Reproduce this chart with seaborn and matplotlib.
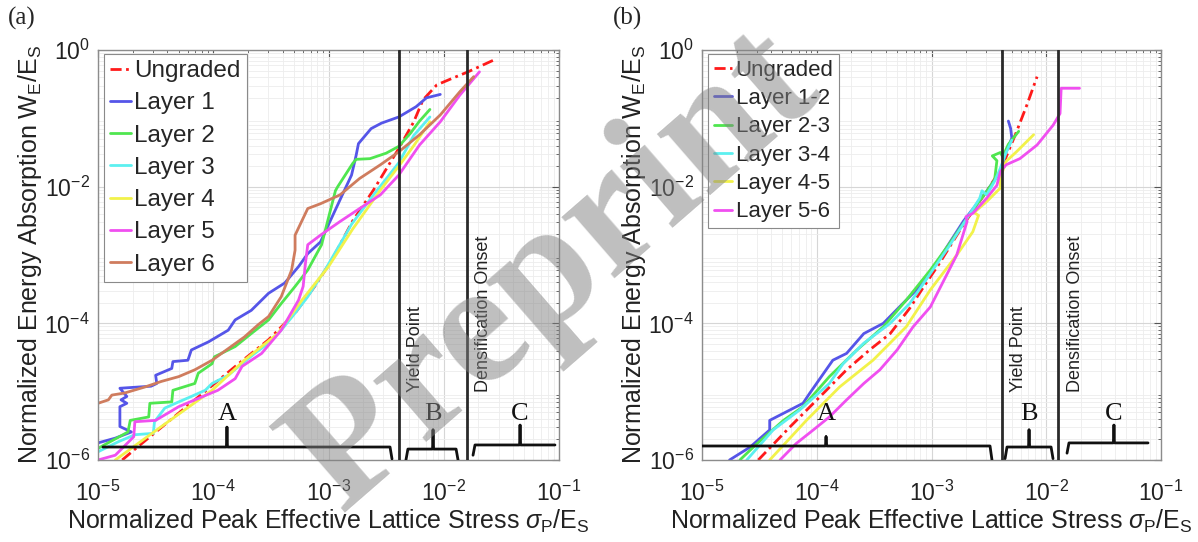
import numpy as np
import pandas as pd
import matplotlib
matplotlib.use("Agg")
import matplotlib.pyplot as plt
import seaborn as sns
from matplotlib.ticker import LogLocator, NullFormatter

sns.set_theme(style="white")
plt.rcParams['font.family'] = ['Liberation Sans', 'DejaVu Sans']
plt.rcParams['mathtext.fontset'] = 'custom'
plt.rcParams['mathtext.rm'] = 'Liberation Sans'
plt.rcParams['mathtext.it'] = 'Liberation Sans:italic'
plt.rcParams['mathtext.sf'] = 'Liberation Sans'

# ---------------- data (log10 of values) ----------------
# Panel (a)
names_a = ["Ungraded", "Layer 1", "Layer 2", "Layer 3", "Layer 4", "Layer 5", "Layer 6"]
ungraded_a_lx = [-4.79, -4.65, -4.16, -3.78, -3.52, -3.29, -3.12, -2.97, -2.79, -2.61, -2.39, -2.26, -2.18, -2.06, -1.92, -1.79, -1.57]
ungraded_a_ly = [-6.0, -5.80, -5.12, -4.59, -4.24, -3.85, -3.46, -3.07, -2.50, -2.05, -1.44, -1.05, -0.73, -0.51, -0.41, -0.32, -0.15]
layer1_a_lx = [-5.0, -4.85, -4.71, -4.81, -4.81, -4.75, -4.80, -4.75, -4.81, -4.54, -4.49, -4.50, -4.36, -4.35, -4.22, -4.19, -4.04,
               -3.87, -3.81, -3.67, -3.52, -3.38, -3.26, -3.18, -3.07, -2.80, -2.76, -2.74, -2.70, -2.63, -2.54, -2.39, -2.24, -2.15, -2.03]
layer1_a_ly = [-5.75, -5.68, -5.59, -5.51, -5.22, -5.17, -5.12, -5.07, -4.95, -4.92, -4.88, -4.76, -4.66, -4.56, -4.54, -4.39, -4.27,
               -4.10, -3.95, -3.81, -3.56, -3.41, -3.17, -2.98, -2.81, -1.83, -1.54, -1.37, -1.29, -1.15, -1.07, -0.98, -0.83, -0.70, -0.65]
layer2_a_lx = [-5.0, -4.74, -4.72, -4.56, -4.55, -4.36, -4.35, -4.16, -4.13, -4.01, -3.99, -3.81, -3.67, -3.52, -3.41, -3.29, -3.18,
               -3.06, -2.94, -2.92, -2.79, -2.76, -2.64, -2.50, -2.39, -2.29, -2.21, -2.12]
layer2_a_ly = [-5.83, -5.59, -5.42, -5.37, -5.17, -5.15, -4.98, -4.88, -4.73, -4.59, -4.49, -4.34, -4.15, -3.95, -3.71, -3.46, -3.22,
               -2.85, -2.06, -2.00, -1.66, -1.60, -1.59, -1.51, -1.41, -1.22, -1.04, -0.87]
layer3_a_lx = [-5.0, -4.82, -4.68, -4.52, -4.51, -4.42, -4.30, -4.19, -4.07, -4.01, -3.87, -3.75, -3.64, -3.52, -3.41, -3.29, -3.18,
               -3.03, -2.80, -2.60, -2.39, -2.26, -2.12]
layer3_a_ly = [-5.88, -5.73, -5.63, -5.61, -5.44, -5.24, -5.15, -5.07, -4.98, -4.88, -4.76, -4.59, -4.44, -4.29, -4.10, -3.85, -3.61,
               -3.22, -2.55, -2.10, -1.65, -1.25, -0.98]
layer4_a_lx = [-4.85, -4.45, -4.01, -3.73, -3.44, -3.23, -3.00, -2.79, -2.55, -2.39, -2.26, -2.12]
layer4_a_ly = [-6.0, -5.51, -4.98, -4.54, -4.15, -3.66, -3.17, -2.62, -2.05, -1.70, -1.40, -1.05]
layer5_a_lx = [-5.0, -4.85, -4.69, -4.68, -4.50, -4.30, -4.16, -3.96, -3.81, -3.75, -3.58, -3.41, -3.26, -3.22, -3.20, -3.18, -3.07,
               -2.90, -2.73, -2.55, -2.39, -2.21, -2.03, -1.86, -1.69]
layer5_a_ly = [-6.0, -5.93, -5.66, -5.44, -5.42, -5.22, -5.12, -4.98, -4.81, -4.63, -4.44, -4.10, -3.66, -3.46, -3.12, -2.85, -2.71,
               -2.51, -2.32, -2.12, -1.83, -1.39, -1.05, -0.66, -0.32]
layer6_a_lx = [-5.0, -4.91, -4.88, -4.77, -4.59, -4.45, -4.30, -4.16, -4.01, -3.87, -3.73, -3.61, -3.52, -3.41, -3.32, -3.29, -3.29,
               -3.18, -3.07, -2.90, -2.73, -2.55, -2.39, -2.21, -2.03, -1.86, -1.74]
layer6_a_ly = [-5.17, -5.12, -5.05, -5.02, -4.93, -4.85, -4.78, -4.68, -4.54, -4.37, -4.20, -4.02, -3.90, -3.61, -3.22, -2.93, -2.71,
               -2.32, -2.25, -2.12, -1.88, -1.68, -1.49, -1.24, -0.95, -0.61, -0.39]

# Panel (b)
names_b = ["Ungraded", "Layer 1-2", "Layer 2-3", "Layer 3-4", "Layer 4-5", "Layer 5-6"]
ungraded_b_lx = [-4.51, -4.23, -3.94, -3.74, -3.54, -3.36, -3.19, -3.07, -2.93, -2.72, -2.52, -2.39, -2.26, -2.17, -2.08]
ungraded_b_ly = [-6.0, -5.51, -5.02, -4.68, -4.39, -4.15, -3.78, -3.47, -3.12, -2.55, -2.07, -1.73, -1.20, -0.81, -0.39]
layer12_b_lx = [-4.76, -4.58, -4.41, -4.41, -4.12, -4.06, -3.86, -3.74, -3.59, -3.42, -3.25, -3.07, -2.93, -2.72, -2.52, -2.40, -2.36, -2.30, -2.31, -2.33]
layer12_b_ly = [-6.0, -5.81, -5.56, -5.42, -5.17, -5.02, -4.54, -4.44, -4.15, -4.0, -3.71, -3.41, -3.05, -2.50, -2.07, -1.78, -1.54, -1.29, -1.15, -1.04]
layer23_b_lx = [-4.67, -4.52, -4.29, -4.12, -3.89, -3.65, -3.42, -3.22, -3.01, -2.85, -2.69, -2.52, -2.45, -2.43, -2.47, -2.40, -2.38, -2.33, -2.24]
layer23_b_ly = [-6.0, -5.76, -5.42, -5.22, -4.78, -4.39, -4.05, -3.66, -3.22, -2.85, -2.46, -2.07, -1.90, -1.62, -1.55, -1.50, -1.56, -1.38, -1.19]
layer34_b_lx = [-4.61, -4.38, -4.15, -3.89, -3.77, -3.59, -3.36, -3.19, -3.01, -2.85, -2.69, -2.58, -2.56, -2.52, -2.45, -2.40, -2.35, -2.30]
layer34_b_ly = [-6.0, -5.56, -5.27, -4.88, -4.59, -4.29, -4.0, -3.71, -3.27, -2.88, -2.46, -2.17, -2.06, -2.12, -1.92, -1.73, -1.50, -1.32]
layer45_b_lx = [-4.41, -4.09, -3.80, -3.51, -3.22, -3.01, -2.78, -2.64, -2.59, -2.63, -2.52, -2.40, -2.40, -2.35, -2.26, -2.11]
layer45_b_ly = [-6.0, -5.42, -4.93, -4.54, -4.05, -3.51, -3.0, -2.66, -2.42, -2.38, -2.22, -2.02, -1.87, -1.63, -1.49, -1.24]
layer56_b_lx = [-4.32, -4.18, -4.03, -3.89, -3.74, -3.59, -3.45, -3.30, -3.16, -3.01, -2.78, -2.69, -2.70, -2.64, -2.52, -2.43,
                -2.40, -2.35, -2.23, -2.08, -1.94, -1.88, -1.87, -1.71]
layer56_b_ly = [-6.0, -5.76, -5.56, -5.37, -5.12, -4.88, -4.68, -4.39, -4.05, -3.76, -3.0, -2.51, -2.44, -2.39, -2.17, -1.98,
                -1.78, -1.68, -1.59, -1.39, -1.10, -0.93, -0.56, -0.56]

# region markers (log10 of stress)
yield_a, dens_a = -2.388, -1.798
yield_b, dens_b = -2.386, -1.898
region_labels = ["A", "B", "C"]
tick_exps_x = [-5, -4, -3, -2, -1]
tick_exps_y = [-6, -4, -2, 0]

colors = ["#ff1a1a", "#5555e8", "#4fe64f", "#5cf0f0", "#f2f24a", "#f04ff0", "#cf7c5e"]

# ---------------------------------------------------------------------------
W, H = 1198, 542
fig = plt.figure(figsize=(W / 100, H / 100), dpi=100)
ax_a = fig.add_axes([98 / W, 1 - 460 / H, 461 / W, 410 / H])
ax_b = fig.add_axes([702 / W, 1 - 460 / H, 459 / W, 410 / H])


def make_df(names, lxs, lys):
    frames = []
    for n, lx, ly in zip(names, lxs, lys):
        frames.append(pd.DataFrame({"x": np.power(10.0, lx), "y": np.power(10.0, ly), "series": n}))
    return pd.concat(frames, ignore_index=True)


df_a = make_df(names_a,
               [ungraded_a_lx, layer1_a_lx, layer2_a_lx, layer3_a_lx, layer4_a_lx, layer5_a_lx, layer6_a_lx],
               [ungraded_a_ly, layer1_a_ly, layer2_a_ly, layer3_a_ly, layer4_a_ly, layer5_a_ly, layer6_a_ly])
df_b = make_df(names_b,
               [ungraded_b_lx, layer12_b_lx, layer23_b_lx, layer34_b_lx, layer45_b_lx, layer56_b_lx],
               [ungraded_b_ly, layer12_b_ly, layer23_b_ly, layer34_b_ly, layer45_b_ly, layer56_b_ly])


def bracket(ax, x0, x1, xm, yl, ypk, yhook, hook_left=True, hook_right=True, lw=2.0, color="#111111"):
    xs, ys = [], []
    if hook_left:
        xs += [x0, x0 * 1.04]
        ys += [yhook, yl]
    else:
        xs += [x0]
        ys += [yl]
    xs += [xm * 0.985, xm, xm, xm, xm * 1.015]
    ys += [yl, yl * 1.12, ypk, yl * 1.12, yl]
    if hook_right:
        xs += [x1 / 1.04, x1]
        ys += [yl, yhook]
    else:
        xs += [x1]
        ys += [yl]
    ax.plot(xs, ys, color=color, lw=lw, solid_joinstyle="round", zorder=5)


def style_axes(ax, df, names, yline, dline, leg_fs, leg_spacing, brackets, text_x):
    pal = dict(zip(names, colors[:len(names)]))
    dashes = {n: "" for n in names}
    dashes["Ungraded"] = (4, 1.6, 1, 1.6)
    sns.lineplot(data=df, x="x", y="y", hue="series", style="series", hue_order=names, style_order=names,
                 palette=pal, dashes=dashes, sort=False, estimator=None, lw=2.0, ax=ax, legend=False)
    n = len(names)
    handles = list(ax.lines[:n])
    ax.set_xscale("log")
    ax.set_yscale("log")
    ax.set_xlim(1e-5, 1e-1)
    ax.set_ylim(1e-6, 1e0)
    ax.set_xticks([10.0 ** e for e in tick_exps_x])
    ax.set_yticks([10.0 ** e for e in tick_exps_y])
    ax.xaxis.set_minor_locator(LogLocator(base=10, subs=np.arange(2, 10), numticks=20))
    ax.yaxis.set_minor_locator(LogLocator(base=10, subs=np.arange(2, 10), numticks=20))
    ax.xaxis.set_minor_formatter(NullFormatter())
    ax.yaxis.set_minor_formatter(NullFormatter())
    ax.grid(True, which="major", color="#d6d6d6", lw=0.8)
    ax.grid(True, which="minor", color="#ededed", lw=0.6)
    ax.set_axisbelow(True)
    ax.tick_params(which="both", direction="in", top=True, right=True, colors="#555555",
                   labelcolor="#222222", labelsize=16.5)
    ax.tick_params(which="major", length=5, width=0.8)
    ax.tick_params(axis="x", which="major", pad=15)
    ax.tick_params(axis="y", which="major", pad=6)
    ax.tick_params(which="minor", length=2.5, width=0.6)
    for s in ax.spines.values():
        s.set_color("#8c8c8c")
        s.set_linewidth(1.0)
    ax.axvline(10.0 ** yline, color="#2a2a2a", lw=2.0, zorder=4)
    ax.axvline(10.0 ** dline, color="#2a2a2a", lw=2.0, zorder=4)
    ax.set_xlabel(r"Normalized Peak Effective Lattice Stress $\sigma_\mathregular{P}$/E$_\mathregular{S}$",
                  fontsize=18, color="#222222", labelpad=1)
    ax.set_ylabel(r"Normalized Energy Absorption W$_\mathregular{E}$/E$_\mathregular{S}$",
                  fontsize=18, color="#222222", labelpad=0)
    leg = ax.legend(handles, names, loc="upper left", bbox_to_anchor=(0.013, 0.99), borderaxespad=0,
                    fontsize=leg_fs, handlelength=0.85, handletextpad=0.15, labelspacing=leg_spacing,
                    borderpad=0.25, fancybox=False, framealpha=1.0, edgecolor="#8a8a8a")
    leg.get_frame().set_linewidth(0.8)
    for (x0, x1, xm, yl, ypk, yh, hl, hr), lab in zip(brackets, region_labels):
        bracket(ax, 10.0 ** x0, 10.0 ** x1, 10.0 ** xm, 10.0 ** yl, 10.0 ** ypk, 10.0 ** yh, hl, hr)
        ax.text(10.0 ** xm, 10.0 ** -5.33, lab, family="Liberation Serif", fontsize=19, ha="center",
                va="center", color="#111111", zorder=6)
    ax.text(10.0 ** text_x[0], 1e-5, "Yield Point", rotation=90, ha="center", va="bottom", fontsize=13,
            color="#222222", zorder=6)
    ax.text(10.0 ** text_x[1], 1e-5, "Densification Onset", rotation=90, ha="center", va="bottom",
            fontsize=13, color="#222222", zorder=6)


brackets_a = [(-4.957, -2.449, -3.881, -5.81, -5.52, -5.985, False, True),
              (-2.328, -1.876, -2.093, -5.84, -5.56, -6.0, True, True),
              (-1.746, -1.035, -1.338, -5.78, -5.49, -5.93, True, False)]
brackets_b = [(-5.0, -2.473, -3.919, -5.795, -5.66, -6.0, False, True),
              (-2.359, -1.941, -2.150, -5.81, -5.56, -5.98, True, True),
              (-1.819, -1.113, -1.41, -5.75, -5.49, -5.90, True, False)]

style_axes(ax_a, df_a, names_a, yield_a, dens_a, 17.5, 0.42, brackets_a, (-2.249, -1.659))
style_axes(ax_b, df_b, names_b, yield_b, dens_b, 16, 0.33, brackets_b, (-2.246, -1.749))

fig.text(22 / W, 1 - 18 / H, "(a)", family="Liberation Serif", fontsize=18, ha="center", va="center")
fig.text(628 / W, 1 - 18 / H, "(b)", family="Liberation Serif", fontsize=18, ha="center", va="center")

# watermark
fig.text(555 / W, 1 - 271 / H, "Preprint", family="Liberation Serif", weight="bold", fontsize=126,
         rotation=41, color="#808080", alpha=0.5, ha="center", va="center", zorder=100)

fig.savefig("out.png", dpi=100)
